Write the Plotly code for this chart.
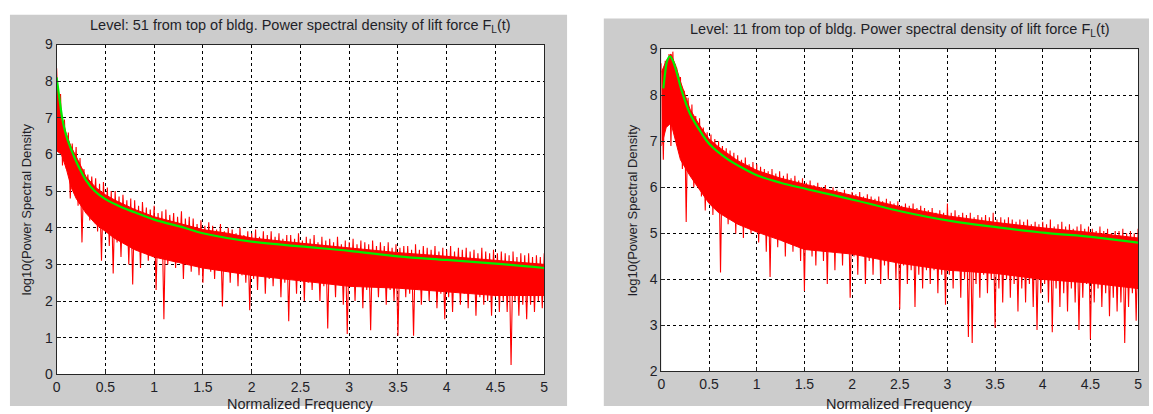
import numpy as np
import plotly.graph_objects as go

# ---------------- data ----------------
titles = ["Level: 51 from top of bldg. Power spectral density of lift force F<sub>L</sub>(t)",
          "Level: 11 from top of bldg. Power spectral density of lift force F<sub>L</sub>(t)"]
x_label = "Normalized Frequency"
y_label = "log10(Power Spectral Density"

x_tickvals = [0, 0.5, 1, 1.5, 2, 2.5, 3, 3.5, 4, 4.5, 5]
x_ticktext = ["0", "0.5", "1", "1.5", "2", "2.5", "3", "3.5", "4", "4.5", "5"]
y_tickvals_left = [0, 1, 2, 3, 4, 5, 6, 7, 8, 9]
y_tickvals_right = [2, 3, 4, 5, 6, 7, 8, 9]

# log10 PSD samples, evenly spaced in normalized frequency 0..5
psd_left = [
    8.35, 6.8, 7.65, 5.7, 6.95, 5.6, 6.6, 4.8, 6.3, 5.2,
    6.2, 4.6, 5.9, 3.6, 5.6, 4.5, 5.45, 4.2, 5.4, 4.4,
    5.35, 3.9, 5.2, 3.1, 5.25, 4.0, 5.1, 3.5, 5.0, 2.75,
    5.0, 3.6, 4.85, 3.2, 4.9, 3.8, 4.75, 3.0, 4.8, 2.45,
    4.75, 3.4, 4.6, 2.9, 4.7, 3.6, 4.55, 3.1, 4.5, 3.3,
    4.6, 2.3, 4.4, 3.3, 4.45, 1.5, 4.5, 3.0, 4.35, 3.4,
    4.4, 2.9, 4.3, 3.3, 4.45, 2.6, 4.25, 3.2, 4.3, 2.8,
    4.25, 3.1, 4.1, 2.7, 4.2, 2.5, 4.05, 3.0, 4.15, 2.8,
    4.05, 2.6, 3.95, 3.0, 4.1, 1.85, 3.9, 2.8, 4.0, 2.5,
    3.95, 2.9, 3.85, 2.4, 4.0, 2.7, 3.8, 2.5, 3.9, 1.75,
    3.85, 2.6, 3.95, 2.3, 3.75, 2.8, 3.9, 2.2, 3.8, 2.6,
    3.9, 2.4, 3.75, 2.7, 3.85, 2.1, 3.7, 2.5, 3.8, 1.45,
    3.8, 2.6, 3.7, 2.2, 3.85, 2.7, 3.65, 2.0, 3.75, 2.5,
    3.7, 2.3, 3.8, 2.6, 3.6, 2.0, 3.75, 2.4, 3.65, 1.25,
    3.7, 2.5, 3.6, 2.1, 3.75, 2.6, 3.55, 1.9, 3.65, 1.1,
    3.6, 2.4, 3.7, 2.0, 3.55, 2.5, 3.65, 1.8, 3.6, 2.3,
    3.55, 1.2, 3.65, 2.4, 3.5, 2.1, 3.6, 2.5, 3.5, 1.9,
    3.6, 2.3, 3.45, 2.0, 3.55, 1.05, 3.45, 2.4, 3.5, 2.1,
    3.5, 2.2, 3.4, 1.05, 3.55, 2.3, 3.4, 1.9, 3.5, 2.4,
    3.45, 2.0, 3.4, 2.3, 3.5, 1.8, 3.35, 2.2, 3.45, 1.5,
    3.4, 2.1, 3.5, 1.7, 3.35, 2.3, 3.45, 1.9, 3.4, 2.2,
    3.45, 1.8, 3.35, 2.2, 3.4, 1.6, 3.3, 2.1, 3.45, 1.9,
    3.35, 2.0, 3.3, 1.6, 3.4, 2.1, 3.3, 1.7, 3.35, 2.0,
    3.3, 1.7, 3.25, 0.25, 3.35, 2.0, 3.2, 1.6, 3.3, 1.9,
    3.25, 1.5, 3.3, 1.9, 3.2, 1.7, 3.25, 2.0, 3.2, 1.8,
    3.3,
]

psd_right = [
    8.7, 6.6, 8.75, 7.4, 8.9, 6.9, 8.95, 7.6, 8.6, 7.1,
    8.4, 6.4, 8.1, 5.25, 7.95, 6.3, 7.8, 6.0, 7.55, 6.2,
    7.5, 5.8, 7.3, 5.5, 7.2, 6.0, 7.15, 5.4, 7.05, 5.6,
    7.0, 4.15, 6.9, 5.6, 6.85, 5.2, 6.8, 5.5, 6.75, 5.0,
    6.7, 5.3, 6.6, 4.9, 6.65, 5.4, 6.5, 5.0, 6.55, 5.2,
    6.5, 4.8, 6.45, 5.2, 6.4, 4.6, 6.35, 4.05, 6.4, 5.1,
    6.3, 4.7, 6.35, 5.1, 6.25, 4.5, 6.3, 4.9, 6.2, 4.6,
    6.25, 5.0, 6.15, 4.4, 6.2, 3.75, 6.1, 4.8, 6.15, 4.5,
    6.05, 4.3, 6.1, 4.8, 6.0, 4.4, 6.05, 3.9, 5.95, 4.6,
    6.0, 4.2, 5.95, 4.7, 5.9, 4.3, 5.95, 4.6, 5.85, 3.6,
    5.9, 4.5, 5.85, 4.1, 5.9, 4.6, 5.8, 3.9, 5.85, 4.4,
    5.8, 4.1, 5.75, 4.5, 5.8, 3.9, 5.7, 4.3, 5.75, 4.0,
    5.7, 4.4, 5.65, 4.0, 5.7, 3.35, 5.6, 4.3, 5.65, 3.9,
    5.6, 4.2, 5.65, 3.4, 5.55, 4.1, 5.6, 3.8, 5.55, 4.2,
    5.5, 3.9, 5.55, 4.2, 5.45, 3.7, 5.5, 4.1, 5.45, 3.45,
    5.65, 4.1, 5.45, 3.8, 5.5, 4.2, 5.4, 3.6, 5.45, 4.0,
    5.4, 2.75, 5.45, 2.62, 5.35, 3.9, 5.4, 3.6, 5.35, 4.1,
    5.4, 3.7, 5.35, 4.0, 5.45, 2.95, 5.3, 3.8, 5.35, 3.5,
    5.3, 4.0, 5.35, 3.6, 5.3, 3.9, 5.25, 3.3, 5.3, 3.8,
    5.25, 3.5, 5.3, 3.9, 5.2, 3.4, 5.25, 2.9, 5.2, 3.7,
    5.25, 3.9, 5.2, 3.5, 5.3, 2.85, 5.15, 3.8, 5.2, 3.4,
    5.25, 3.7, 5.15, 3.3, 5.2, 3.8, 5.1, 3.5, 5.15, 2.9,
    5.2, 3.6, 5.1, 3.9, 5.15, 2.7, 5.1, 3.5, 5.05, 3.8,
    5.15, 3.4, 5.05, 3.7, 5.1, 3.2, 5.0, 3.6, 5.05, 3.3,
    5.05, 3.5, 5.1, 2.62, 5.0, 3.4, 5.05, 3.7, 5.0, 3.1,
    5.1,
]

# dense core of the red spectrum (upper and lower edge of the solid band)
band_freq = [0.0, 0.05, 0.1, 0.15, 0.2, 0.3, 0.4, 0.5, 0.6, 0.8, 1.0, 1.25, 1.5,
             1.75, 2.0, 2.5, 3.0, 3.5, 4.0, 4.5, 5.0]
band_hi_left = [8.0, 7.0, 6.55, 6.2, 5.95, 5.4, 5.1, 4.9, 4.75, 4.5, 4.3, 4.12, 3.95,
                3.85, 3.72, 3.58, 3.45, 3.32, 3.22, 3.12, 3.0]
band_lo_left = [6.1, 6.0, 5.6, 5.1, 4.8, 4.4, 4.1, 3.9, 3.7, 3.4, 3.2, 3.05, 2.9,
                2.8, 2.7, 2.55, 2.4, 2.35, 2.25, 2.15, 2.15]
band_hi_right = [8.5, 8.75, 8.9, 8.65, 8.3, 7.7, 7.35, 7.05, 6.88, 6.58, 6.37, 6.2, 6.07,
                 5.95, 5.83, 5.58, 5.38, 5.24, 5.12, 5.02, 4.9]
band_lo_right = [6.9, 7.3, 7.4, 7.0, 6.6, 6.25, 5.95, 5.65, 5.45, 5.2, 5.03, 4.85, 4.65,
                 4.6, 4.55, 4.35, 4.2, 4.13, 4.0, 3.92, 3.8]

# smooth fitted spectrum (green)
fit_freq_left = [0.0, 0.02, 0.04, 0.06, 0.08, 0.1, 0.14, 0.17, 0.22, 0.3, 0.39, 0.5,
                 0.65, 0.8, 1.0, 1.31, 1.5, 2.0, 2.5, 3.0, 3.5, 4.0, 4.5, 5.0]
fit_left = [8.1, 7.7, 7.3, 6.95, 6.7, 6.5, 6.2, 6.0, 5.7, 5.3, 5.0, 4.78,
            4.58, 4.42, 4.22, 4.0, 3.85, 3.62, 3.49, 3.37, 3.22, 3.12, 3.02, 2.9]

fit_freq_right = [0.02, 0.04, 0.06, 0.09, 0.12, 0.16, 0.21, 0.3, 0.42, 0.5, 0.69, 0.88,
                  1.03, 1.25, 1.53, 2.03, 2.53, 3.03, 3.53, 4.03, 4.53, 5.0]
fit_right = [8.15, 8.5, 8.75, 8.85, 8.75, 8.5, 8.12, 7.6, 7.18, 6.95, 6.62, 6.39,
             6.24, 6.1, 5.96, 5.72, 5.47, 5.27, 5.13, 5.01, 4.92, 4.80]

freq_left = np.linspace(0, 5, len(psd_left))
freq_right = np.linspace(0, 5, len(psd_right))

# ---------------- figure ----------------
W, H = 1153, 414
RED = "#ff0000"
GREEN = "#00ee00"
FONT = "Liberation Sans, Arial, sans-serif"
TXT = "#1f1f28"

fig = go.Figure()


def add_panel(freq, psd, band_hi, band_lo, fit_f, fit_v, xa, ya):
    fig.add_trace(go.Scatter(x=list(band_freq) + list(band_freq[::-1]),
                             y=list(band_hi) + list(band_lo[::-1]),
                             mode="lines", fill="toself", fillcolor=RED,
                             line=dict(color=RED, width=1), xaxis=xa, yaxis=ya,
                             showlegend=False, hoverinfo="skip"))
    fig.add_trace(go.Scatter(x=freq, y=psd, mode="lines",
                             line=dict(color=RED, width=1.1), xaxis=xa, yaxis=ya,
                             showlegend=False, hoverinfo="skip"))
    fig.add_trace(go.Scatter(x=fit_f, y=fit_v, mode="lines",
                             line=dict(color=GREEN, width=2.2, shape="spline"),
                             xaxis=xa, yaxis=ya, showlegend=False))


add_panel(freq_left, psd_left, band_hi_left, band_lo_left, fit_freq_left, fit_left, "x", "y")
add_panel(freq_right, psd_right, band_hi_right, band_lo_right, fit_freq_right, fit_right, "x2", "y2")


def px_x(p):
    return p / W


def px_y(p):
    return (H - p) / H


L = dict(x0=53, x1=544, y0=38, y1=381)
R = dict(x0=662, x1=1142, y0=43, y1=378)

axis_common = dict(showline=True, mirror=True, linecolor="#262626", linewidth=1,
                   showgrid=True, gridcolor="#000000", gridwidth=1, griddash="3px,3px",
                   zeroline=False, ticks="inside", ticklen=4, tickcolor="#262626",
                   tickfont=dict(family=FONT, size=14, color=TXT))

fig.update_layout(
    width=W, height=H,
    margin=dict(l=0, r=0, t=0, b=0),
    paper_bgcolor="white", plot_bgcolor="white",
    xaxis=dict(domain=[px_x(L["x0"]), px_x(L["x1"])], range=[0, 5],
               tickvals=x_tickvals, ticktext=x_ticktext, anchor="y", **axis_common),
    yaxis=dict(domain=[px_y(L["y1"]), px_y(L["y0"])], range=[0, 9],
               tickvals=y_tickvals_left, anchor="x", **axis_common),
    xaxis2=dict(domain=[px_x(R["x0"]), px_x(R["x1"])], range=[0, 5],
                tickvals=x_tickvals, ticktext=x_ticktext, anchor="y2", **axis_common),
    yaxis2=dict(domain=[px_y(R["y1"]), px_y(R["y0"])], range=[2, 9],
                tickvals=y_tickvals_right, anchor="x2", **axis_common),
    shapes=[
        dict(type="rect", xref="paper", yref="paper", layer="below",
             x0=px_x(6), x1=px_x(567), y0=0, y1=px_y(7),
             fillcolor="#cccccc", line=dict(width=0)),
        dict(type="rect", xref="paper", yref="paper", layer="below",
             x0=px_x(604), x1=1, y0=0, y1=px_y(11),
             fillcolor="#cccccc", line=dict(width=0)),
        dict(type="rect", xref="paper", yref="paper", layer="below",
             x0=px_x(L["x0"]), x1=px_x(L["x1"]), y0=px_y(L["y1"]), y1=px_y(L["y0"]),
             fillcolor="white", line=dict(width=0)),
        dict(type="rect", xref="paper", yref="paper", layer="below",
             x0=px_x(R["x0"]), x1=px_x(R["x1"]), y0=px_y(R["y1"]), y1=px_y(R["y0"]),
             fillcolor="white", line=dict(width=0)),
    ],
    annotations=[
        dict(text=titles[0], xref="paper", yref="paper", x=px_x((L["x0"] + L["x1"]) / 2),
             y=px_y(19), xanchor="center", yanchor="middle", showarrow=False,
             font=dict(family=FONT, size=14.5, color=TXT)),
        dict(text=titles[1], xref="paper", yref="paper", x=px_x((R["x0"] + R["x1"]) / 2),
             y=px_y(23), xanchor="center", yanchor="middle", showarrow=False,
             font=dict(family=FONT, size=14.5, color=TXT)),
        dict(text=x_label, xref="paper", yref="paper", x=px_x((L["x0"] + L["x1"]) / 2),
             y=px_y(412), xanchor="center", yanchor="middle", showarrow=False,
             font=dict(family=FONT, size=14.5, color=TXT)),
        dict(text=x_label, xref="paper", yref="paper", x=px_x((R["x0"] + R["x1"]) / 2),
             y=px_y(412), xanchor="center", yanchor="middle", showarrow=False,
             font=dict(family=FONT, size=14.5, color=TXT)),
        dict(text=y_label, xref="paper", yref="paper", x=px_x(23),
             y=px_y((L["y0"] + L["y1"]) / 2), xanchor="center", yanchor="middle",
             textangle=-90, showarrow=False, font=dict(family=FONT, size=13, color=TXT)),
        dict(text=y_label, xref="paper", yref="paper", x=px_x(633),
             y=px_y((R["y0"] + R["y1"]) / 2), xanchor="center", yanchor="middle",
             textangle=-90, showarrow=False, font=dict(family=FONT, size=13, color=TXT)),
    ],
)

fig.write_html("out.html")
